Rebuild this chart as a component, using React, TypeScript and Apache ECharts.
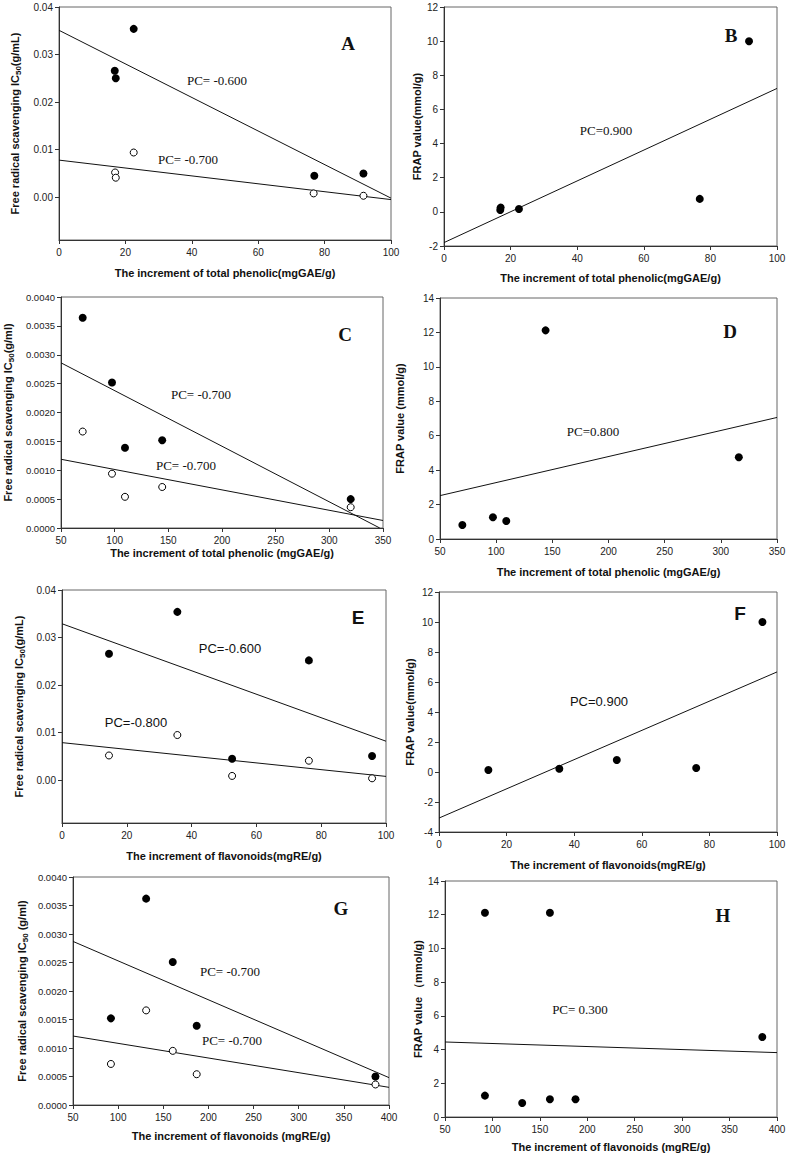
import React, { useEffect, useRef } from "react";
import * as echarts from "echarts";

// ---------- DATA ----------
// Panel A
const aX = [16.8, 17.1, 22.5, 76.9, 91.7];
const aFilled = [0.0266, 0.025, 0.0354, 0.0045, 0.005];
const aOpenX = [16.9, 17.1, 22.5, 76.7, 91.7];
const aOpen = [0.0052, 0.0041, 0.0094, 0.0008, 0.0003];
const aFitFilled = [[0, 0.0351], [100, -0.0002]];
const aFitOpen = [[0, 0.0078], [100, -0.0005]];
// Panel B
const bX = [17.0, 16.9, 22.5, 76.8, 91.6];
const bY = [0.25, 0.11, 0.17, 0.76, 9.99];
const bFit = [[0, -1.8], [100, 7.23]];
// Panel C
const cX = [70.2, 97.5, 109.6, 144.3, 319.9];
const cFilled = [0.00364, 0.00252, 0.00139, 0.00152, 0.0005];
const cOpen = [0.00167, 0.00094, 0.00054, 0.00071, 0.00036];
const cFitFilled = [[50, 0.00286], [347, 0]];
const cFitOpen = [[50, 0.00119], [350, 0.00013]];
// Panel D
const dX = [69.9, 97.1, 109, 144, 316];
const dY = [0.81, 1.26, 1.05, 12.12, 4.75];
const dFit = [[50, 2.52], [350, 7.06]];
// Panel E
const eX = [14.5, 35.6, 52.5, 76.2, 95.7];
const eFilled = [0.0266, 0.0354, 0.0045, 0.0252, 0.0051];
const eOpen = [0.0052, 0.0095, 0.0009, 0.0041, 0.0004];
const eFitFilled = [[0, 0.0329], [100, 0.0082]];
const eFitOpen = [[0, 0.0079], [100, 0.0008]];
// Panel F
const fX = [14.6, 35.6, 52.6, 76.1, 95.7];
const fY = [0.13, 0.22, 0.8, 0.27, 10.0];
const fFit = [[0, -3.07], [100, 6.67]];
// Panel G
const gX = [92, 131, 160.5, 187, 385];
const gFilled = [0.00152, 0.00362, 0.00251, 0.00139, 0.0005];
const gOpen = [0.00072, 0.00166, 0.00095, 0.00054, 0.00036];
const gFitFilled = [[50, 0.00287], [400, 0.00048]];
const gFitOpen = [[50, 0.00121], [400, 0.00031]];
// Panel H
const hX = [92.1, 92.1, 131.4, 160.6, 160.6, 187.6, 384.5];
const hY = [12.12, 1.27, 0.83, 12.12, 1.05, 1.05, 4.75];
const hFit = [[50, 4.45], [400, 3.82]];

// tick labels
const icTicksLarge = [0, 0.01, 0.02, 0.03, 0.04];

const SANS = "'Liberation Sans', Arial, sans-serif";
const SERIF = "'Liberation Serif', 'Times New Roman', serif";

const zip = (xs: number[], ys: number[]) => xs.map((x, i) => [x, ys[i]]);

type Panel = {
  grid: { left: number; top: number; width: number; height: number };
  x: { min: number; max: number; interval: number; name: string; gap: number };
  y: {
    min: number;
    max: number;
    interval?: number;
    custom?: number[];
    decimals: number;
    name: string;
    gap: number;
    fontSize?: number;
  };
  filled: number[][];
  open?: number[][];
  fits: number[][][];
};

const icName = (after: string) =>
  `{t|Free radical scavenging IC}{s|50}{t|${after}}`;

const panels: Panel[] = [
  {
    grid: { left: 59, top: 7, width: 332, height: 233 },
    x: { min: 0, max: 100, interval: 20, name: "The increment of total phenolic(mgGAE/g)", gap: 27 },
    y: { min: -0.009, max: 0.04, custom: icTicksLarge, decimals: 2, name: icName("(g/mL)"), gap: 37 },
    filled: zip(aX, aFilled),
    open: zip(aOpenX, aOpen),
    fits: [aFitFilled, aFitOpen],
  },
  {
    grid: { left: 444, top: 7, width: 333, height: 239 },
    x: { min: 0, max: 100, interval: 20, name: "The increment of total phenolic(mgGAE/g)", gap: 26 },
    y: { min: -2, max: 12, interval: 2, decimals: 0, name: "FRAP value(mmol/g)", gap: 20 },
    filled: zip(bX, bY),
    fits: [bFit],
  },
  {
    grid: { left: 61, top: 297, width: 322, height: 231 },
    x: { min: 50, max: 350, interval: 50, name: "The increment of total phenolic (mgGAE/g)", gap: 19 },
    y: { min: 0, max: 0.004, interval: 0.0005, decimals: 4, name: icName("(g/ml)"), gap: 46, fontSize: 9.5 },
    filled: zip(cX, cFilled),
    open: zip(cX, cOpen),
    fits: [cFitFilled, cFitOpen],
  },
  {
    grid: { left: 440, top: 298, width: 337, height: 241 },
    x: { min: 50, max: 350, interval: 50, name: "The increment of total phenolic (mgGAE/g)", gap: 27 },
    y: { min: 0, max: 14, interval: 2, decimals: 0, name: "FRAP value (mmol/g)", gap: 35 },
    filled: zip(dX, dY),
    fits: [dFit],
  },
  {
    grid: { left: 62, top: 590, width: 324, height: 233 },
    x: { min: 0, max: 100, interval: 20, name: "The increment of flavonoids(mgRE/g)", gap: 27 },
    y: { min: -0.009, max: 0.04, custom: icTicksLarge, decimals: 2, name: icName("(g/mL)"), gap: 36 },
    filled: zip(eX, eFilled),
    open: zip(eX, eOpen),
    fits: [eFitFilled, eFitOpen],
  },
  {
    grid: { left: 439, top: 592, width: 338, height: 240 },
    x: { min: 0, max: 100, interval: 20, name: "The increment of flavonoids(mgRE/g)", gap: 27 },
    y: { min: -4, max: 12, interval: 2, decimals: 0, name: "FRAP value(mmol/g)", gap: 24 },
    filled: zip(fX, fY),
    fits: [fFit],
  },
  {
    grid: { left: 73, top: 877, width: 316, height: 228 },
    x: { min: 50, max: 400, interval: 50, name: "The increment of flavonoids (mgRE/g)", gap: 25 },
    y: { min: 0, max: 0.004, interval: 0.0005, decimals: 4, name: icName(" (g/ml)"), gap: 44, fontSize: 9.5 },
    filled: zip(gX, gFilled),
    open: zip(gX, gOpen),
    fits: [gFitFilled, gFitOpen],
  },
  {
    grid: { left: 445, top: 881, width: 332, height: 236 },
    x: { min: 50, max: 400, interval: 50, name: "The increment of flavonoids (mgRE/g)", gap: 24 },
    y: { min: 0, max: 14, interval: 2, decimals: 0, name: "FRAP value （mmol/g)", gap: 21 },
    filled: zip(hX, hY),
    fits: [hFit],
  },
];

type Note = { text: string; x: number; y: number; kind: "pc" | "pcSans" | "letter" | "letterSans" };
const notes: Note[] = [
  { text: "PC= -0.600", x: 217, y: 80, kind: "pc" },
  { text: "PC= -0.700", x: 188, y: 159, kind: "pc" },
  { text: "A", x: 348, y: 43, kind: "letter" },
  { text: "PC=0.900", x: 606, y: 130, kind: "pc" },
  { text: "B", x: 731, y: 35, kind: "letter" },
  { text: "PC= -0.700", x: 201, y: 394, kind: "pc" },
  { text: "PC= -0.700", x: 186, y: 465, kind: "pc" },
  { text: "C", x: 345, y: 334, kind: "letter" },
  { text: "PC=0.800", x: 593, y: 431, kind: "pc" },
  { text: "D", x: 730, y: 331, kind: "letter" },
  { text: "PC=-0.600", x: 230, y: 648, kind: "pcSans" },
  { text: "PC=-0.800", x: 136, y: 722, kind: "pcSans" },
  { text: "E", x: 358, y: 617, kind: "letterSans" },
  { text: "PC=0.900", x: 599, y: 701, kind: "pcSans" },
  { text: "F", x: 740, y: 613, kind: "letterSans" },
  { text: "PC= -0.700", x: 230, y: 971, kind: "pc" },
  { text: "PC= -0.700", x: 232, y: 1040, kind: "pc" },
  { text: "G", x: 341, y: 908, kind: "letter" },
  { text: "PC= 0.300", x: 580, y: 1009, kind: "pc" },
  { text: "H", x: 723, y: 915, kind: "letter" },
];

function buildOption() {
  const grid: any[] = [];
  const xAxis: any[] = [];
  const yAxis: any[] = [];
  const series: any[] = [];
  const axisColor = "#333";

  panels.forEach((p, i) => {
    grid.push({
      ...p.grid,
      show: true,
      borderColor: "#666",
      borderWidth: 1,
      backgroundColor: "transparent",
      containLabel: false,
    });
    xAxis.push({
      gridIndex: i,
      type: "value",
      min: p.x.min,
      max: p.x.max,
      interval: p.x.interval,
      axisLine: { show: true, onZero: false, lineStyle: { color: axisColor, width: 1 } },
      axisTick: { show: true, length: 4, lineStyle: { color: axisColor } },
      axisLabel: { fontSize: 10, color: "#222", margin: 7, fontFamily: SANS },
      splitLine: { show: false },
      name: p.x.name,
      nameLocation: "middle",
      nameGap: p.x.gap,
      nameTextStyle: { fontWeight: "bold", fontSize: 11, color: "#111", fontFamily: SANS },
    });
    const yLabel: any = {
      fontSize: p.y.fontSize ?? 10,
      color: "#222",
      margin: 6,
      fontFamily: SANS,
      formatter: (v: number) => Number(v).toFixed(p.y.decimals),
    };
    const yTick: any = { show: true, length: 4, lineStyle: { color: axisColor } };
    if (p.y.custom) {
      yLabel.customValues = p.y.custom;
      yTick.customValues = p.y.custom;
    }
    yAxis.push({
      gridIndex: i,
      type: "value",
      min: p.y.min,
      max: p.y.max,
      ...(p.y.interval ? { interval: p.y.interval } : {}),
      axisLine: { show: true, onZero: false, lineStyle: { color: axisColor, width: 1 } },
      axisTick: yTick,
      axisLabel: yLabel,
      splitLine: { show: false },
      name: p.y.name,
      nameLocation: "middle",
      nameRotate: 90,
      nameGap: p.y.gap,
      nameTextStyle: {
        fontWeight: "bold",
        fontSize: 11,
        color: "#111",
        fontFamily: SANS,
        rich: {
          t: { fontWeight: "bold", fontSize: 11, color: "#111", fontFamily: SANS, lineHeight: 14, verticalAlign: "middle" },
          s: { fontWeight: "bold", fontSize: 8, color: "#111", fontFamily: SANS, lineHeight: 6, verticalAlign: "bottom" },
        },
      },
    });
    p.fits.forEach((f) => {
      series.push({
        type: "line",
        xAxisIndex: i,
        yAxisIndex: i,
        data: f,
        symbol: "none",
        silent: true,
        lineStyle: { color: "#111", width: 1 },
        z: 2,
      });
    });
    series.push({
      type: "scatter",
      xAxisIndex: i,
      yAxisIndex: i,
      data: p.filled,
      symbol: "circle",
      symbolSize: 8,
      itemStyle: { color: "#000", opacity: 1 },
      z: 3,
    });
    if (p.open) {
      series.push({
        type: "scatter",
        xAxisIndex: i,
        yAxisIndex: i,
        data: p.open,
        symbol: "circle",
        symbolSize: 7,
        itemStyle: { color: "#fff", borderColor: "#000", borderWidth: 1, opacity: 1 },
        z: 3,
      });
    }
  });

  const graphic = notes.map((n) => {
    const isLetter = n.kind === "letter" || n.kind === "letterSans";
    const isSans = n.kind === "pcSans" || n.kind === "letterSans";
    return {
      type: "text",
      x: n.x,
      y: n.y,
      z: 10,
      style: {
        text: n.text,
        fill: "#111",
        fontSize: isLetter ? 19 : 13,
        fontWeight: isLetter ? "bold" : "normal",
        fontFamily: isSans ? SANS : SERIF,
        align: "center",
        verticalAlign: "middle",
      },
    };
  });

  return {
    animation: false,
    backgroundColor: "#fff",
    grid,
    xAxis,
    yAxis,
    series,
    graphic,
  };
}

export default function App() {
  const ref = useRef<HTMLDivElement>(null);
  useEffect(() => {
    if (!ref.current) return;
    const chart = echarts.init(ref.current, null, { renderer: "svg" });
    chart.setOption(buildOption() as any);
    return () => chart.dispose();
  }, []);
  return (
    <div
      ref={ref}
      style={{ position: "absolute", left: 0, top: 0, width: 789, height: 1159, background: "#fff" }}
    />
  );
}
